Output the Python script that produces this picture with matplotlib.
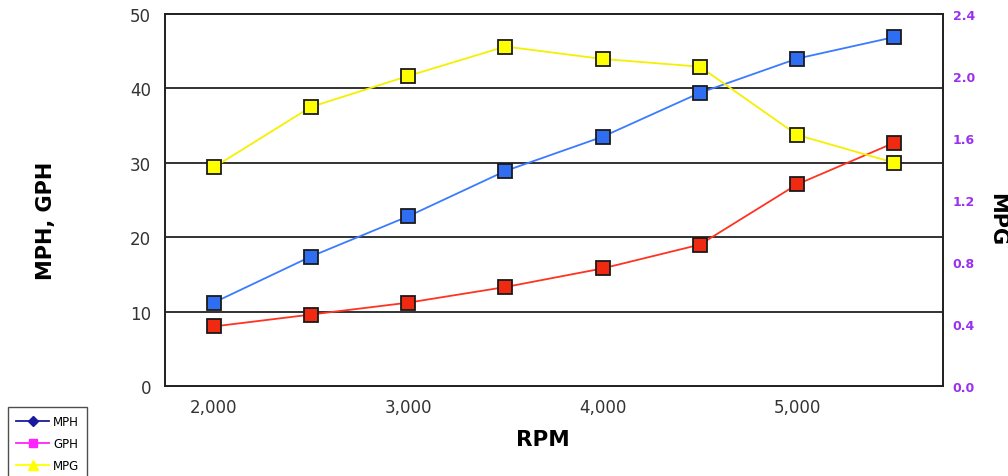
import matplotlib
matplotlib.use("Agg")
import matplotlib.pyplot as plt
from matplotlib.lines import Line2D
from matplotlib.ticker import FuncFormatter

plt.rcParams['font.family'] = ['DejaVu Sans']

rpm = [2000, 2500, 3000, 3500, 4000, 4500, 5000, 5500]
mph = [11.2, 17.4, 22.8, 28.9, 33.5, 39.4, 44.0, 46.9]
gph = [8.0, 9.6, 11.2, 13.3, 15.8, 19.0, 27.1, 32.7]
mpg = [1.41, 1.80, 2.00, 2.19, 2.11, 2.06, 1.62, 1.44]
left_ticks = [0, 10, 20, 30, 40, 50]
right_ticks = [0.0, 0.4, 0.8, 1.2, 1.6, 2.0, 2.4]
x_ticks = [2000, 3000, 4000, 5000]

fig = plt.figure(figsize=(10.08, 4.77), dpi=100)
ax = fig.add_axes([0.1637, 0.1887, 0.9355 - 0.1637, 0.9686 - 0.1887])
ax2 = ax.twinx()

ax.set_xlim(1750, 5750)
ax.set_ylim(0, 50)
ax2.set_ylim(0, 2.4)

for y in left_ticks[1:-1]:
    ax.axhline(y, color='#222222', lw=1.3, zorder=1)

mk = dict(marker='s', markersize=10, markeredgecolor='#1a1a1a', markeredgewidth=1.3)
ax.plot(rpm, mph, color='#3a7bff', lw=1.3, markerfacecolor='#2f6ef2', zorder=3, **mk)
ax.plot(rpm, gph, color='#ff3322', lw=1.3, markerfacecolor='#f02a10', zorder=3, **mk)
ax2.plot(rpm, mpg, color='#f5f000', lw=1.3, markerfacecolor='#ffff00', zorder=3, **mk)

ax.set_xticks(x_ticks)
ax.xaxis.set_major_formatter(FuncFormatter(lambda v, p: f"{int(v):,}"))
ax.set_yticks(left_ticks)
ax2.set_yticks(right_ticks)
ax2.yaxis.set_major_formatter(FuncFormatter(lambda v, p: f"{v:.1f}"))

ax.tick_params(axis='x', length=0, pad=9, labelsize=12, labelcolor='#333333')
ax.tick_params(axis='y', length=0, pad=10, labelsize=12, labelcolor='#333333')
ax2.tick_params(axis='y', length=0, pad=7, labelsize=9, labelcolor='#9b30f0')
for lab in ax2.get_yticklabels():
    lab.set_fontweight('bold')

for a in (ax, ax2):
    for s in a.spines.values():
        s.set_color('#222222')
        s.set_linewidth(1.3)

fig.text(0.046, 0.537, 'MPH, GPH', rotation=90, fontsize=15, fontweight='bold',
         ha='center', va='center')
fig.text(0.9896, 0.539, 'MPG', rotation=270, fontsize=15, fontweight='bold',
         ha='center', va='center')
fig.text(0.539, 0.0786, 'RPM', fontsize=15.5, fontweight='bold', ha='center', va='center')

handles = [
    Line2D([], [], color='#1a1aa0', marker='D', markersize=5, lw=1.3),
    Line2D([], [], color='#ff22ff', marker='s', markersize=5.5, lw=1.3),
    Line2D([], [], color='#ffff00', marker='^', markersize=7, lw=1.3),
]
leg = fig.legend(handles, ['MPH', 'GPH', 'MPG'], loc='upper left',
                 bbox_to_anchor=(0.008, 1 - 408 / 477), fontsize=8.5, frameon=True,
                 fancybox=False, edgecolor='#222222', handlelength=2.8,
                 labelspacing=0.75, borderpad=0.7, handletextpad=0.3,
                 borderaxespad=0)
leg.get_frame().set_linewidth(1.0)

fig.savefig('out.png', dpi=100)
